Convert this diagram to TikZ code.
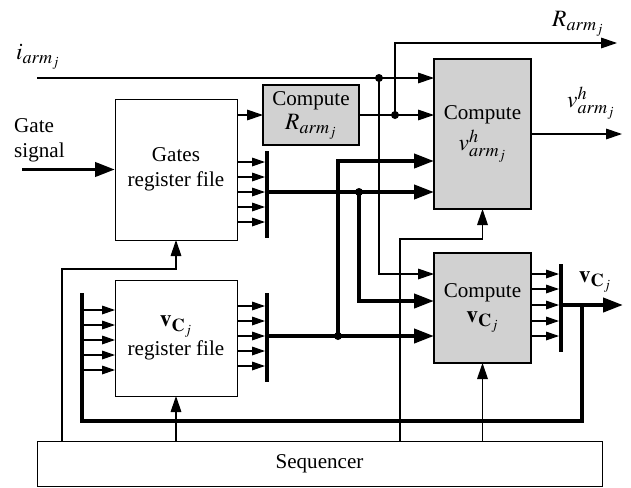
\documentclass[tikz,border=0pt]{standalone}
\usepackage{mathptmx}
\usepackage{fontspec}
\setmainfont{Liberation Serif}
\DeclareMathSizes{18}{20}{15.5}{12}
\usetikzlibrary{arrows.meta}
\tikzset{>={Triangle[length=4.8mm,width=3.2mm]}}
\tikzset{
  box/.style={draw, line width=0.8pt, outer sep=0pt, inner sep=0pt, align=center},
  graybox/.style={box, fill=black!18, line width=1.6pt},
  bus/.style={fill=black, inner sep=0pt, outer sep=0pt, minimum width=1.2mm},
  sig/.style={line width=1pt},
  bigsig/.style={line width=3.4pt, >={Triangle[length=6mm,width=4.2mm]}},
  tap/.style={line width=1pt, >={Triangle[length=3.9mm,width=2.6mm]}}
}

\begin{document}
\begin{tikzpicture}[x=0.3mm,y=-0.3mm,font=\fontsize{18}{21}\selectfont]
  \useasboundingbox (0,0) rectangle (631,487);

  \node[box, minimum width=36.6mm, minimum height=42.3mm] (gates) at (176,169.5) {Gates\\register file};
  \node[box, minimum width=36.6mm, minimum height=34.8mm] (vcreg) at (176,338) {$\mathbf{v}_{\mathbf{C}_j}$\\[2pt]register file};
  \node[graybox, minimum width=28.8mm, minimum height=18mm] (compR) at (311,115) {Compute\\$R_{arm_j}$};
  \node[graybox, minimum width=29.1mm, minimum height=45mm] (compvh) at (482.5,134) {Compute\\[4pt]$v^h_{arm_j}$};
  \node[graybox, minimum width=29.1mm, minimum height=33mm] (compvc) at (482.5,308) {Compute\\$\mathbf{v}_{\mathbf{C}_j}$};
  \node[box, minimum width=169.5mm, minimum height=13.5mm] (seq) at (319.5,463.5) {Sequencer};

  \node[bus, minimum height=26.1mm] (gbus) at (267,194.5) {};
  \node[bus, minimum height=26.7mm] (vbus) at (267,337.5) {};
  \node[bus, minimum height=26.4mm] (cbus) at (561,308) {};
  \node[bus, minimum height=38.4mm] (lbus) at (82,357) {};

  \node (iarm) at (38,57) {$i_{arm_j}$};
  \node (rarm) at (578,24) {$R_{arm_j}$};
  \node (vharm) at (591,103) {$v^h_{arm_j}$};
  \node (vcj) at (595,282) {$\mathbf{v}_{\mathbf{C}_j}$};
  \node[align=left, anchor=west, inner sep=0pt] (gsig) at (14,140) {Gate\\signal};

  \coordinate (iin) at (37,78);
  \coordinate (gin) at (22,169.5);
  \coordinate (j1) at (379,78);
  \coordinate (j2) at (395,115);
  \coordinate (j3) at (359,192);
  \coordinate (j4) at (338,336);
  \coordinate (rout) at (617,43);
  \coordinate (vhout) at (622,134);
  \coordinate (vcout) at (623,305);
  \coordinate (fb) at (582,305);

  \draw[sig,->] (iin) -- (compvh.west |- iin);
  \draw[sig,->] (j1) |- (compvc.west |- 0,274);
  \draw[sig,->] (gates.east |- compR.west) -- (compR.west);
  \draw[sig,->] (compR.east) -- (compvh.west |- compR.east);
  \draw[sig,->] (j2) |- (rout);
  \draw[sig,->] (compvh.east) -- (vhout);
  \draw[bigsig,->] (gin) -- (gates.west);

  \foreach \y in {162,177,192,207,222}
    \draw[tap,->] (gates.east |- 0,\y) -- (gbus.west |- 0,\y);
  \draw[bigsig,->] (gbus.east |- j3) -- (compvh.west |- j3);
  \draw[bigsig,->] (j3) |- (compvc.west |- 0,301);

  \foreach \y in {306,321,336,351,366}
    \draw[tap,->] (vcreg.east |- 0,\y) -- (vbus.west |- 0,\y);
  \draw[bigsig,->] (vbus.east |- j4) -- (compvc.west |- j4);
  \draw[bigsig,->] (j4) |- (compvh.west |- 0,161);

  \foreach \y in {274,289,305,321,336}
    \draw[tap,->] (compvc.east |- 0,\y) -- (cbus.west |- 0,\y);
  \draw[bigsig,->] (cbus.east |- vcout) -- (vcout);
  \draw[bigsig] (fb) |- (lbus.south) -- (lbus.north);
  \foreach \y in {310,325,340,355,370}
    \draw[tap,->] (lbus.east |- 0,\y) -- (vcreg.west |- 0,\y);

  \draw[sig,->] (seq.north -| 62,0) |- (gates.south |- 0,269) -- (gates.south);
  \draw[sig,->] (seq.north -| vcreg.south) -- (vcreg.south);
  \draw[sig,->] (seq.north -| 400,0) |- (compvh.south |- 0,239) -- (compvh.south);
  \draw[sig,->] (seq.north -| compvc.south) -- (compvc.south);

  \foreach \c in {j1,j2,j3,j4}
    \fill (\c) circle (1.2mm);
\end{tikzpicture}
\end{document}
